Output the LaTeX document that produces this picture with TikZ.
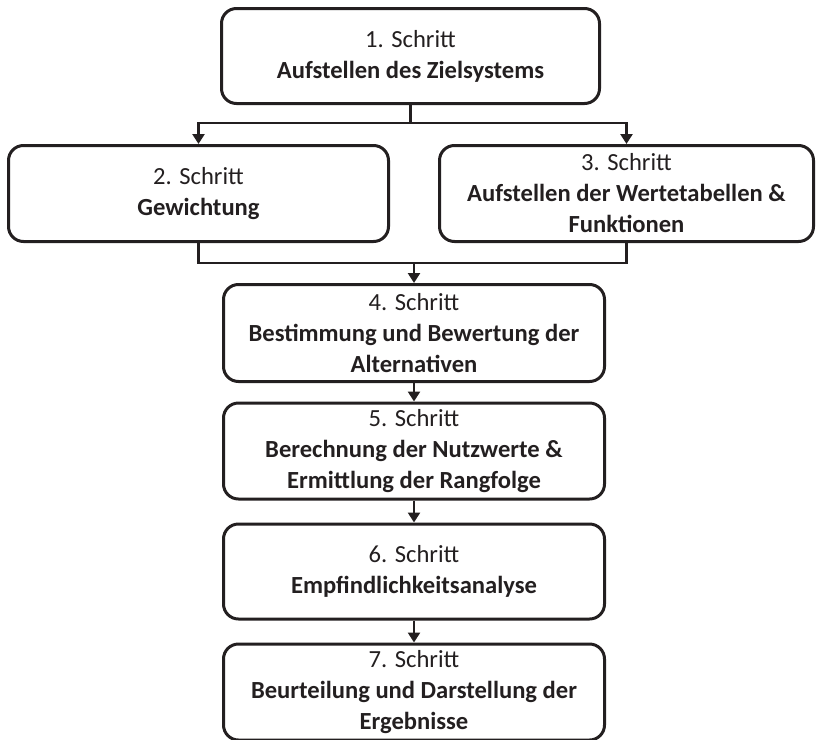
\documentclass[tikz,border=0pt]{standalone}
\usepackage{fontspec}
\setmainfont{Carlito}
\usetikzlibrary{arrows.meta}
\definecolor{ink}{HTML}{231F20}

\begin{document}
\begin{tikzpicture}[x=0.5pt,y=-0.5pt,
  schritt/.style={draw=ink,line width=1.5pt,rounded corners=7.5pt,align=center,text=ink,
    inner sep=0pt,font=\fontsize{12.3}{15.5}\selectfont},
  linie/.style={draw=ink,line width=1.3pt},
  pfeil/.style={linie,-{Triangle[width=6pt,length=5pt]}}]
\useasboundingbox (0,0) rectangle (818,739);

\node[schritt,minimum width=189pt,minimum height=47.5pt] (s1) at (410.5,56) {1. Schritt\\\textbf{Aufstellen des Zielsystems}};
\node[schritt,minimum width=190pt,minimum height=48pt] (s2) at (198.5,193.5) {2. Schritt\\\textbf{Gewichtung}};
\node[schritt,minimum width=187pt,minimum height=48pt] (s3) at (626.5,193.5) {3. Schritt\\\textbf{Aufstellen der Wertetabellen \&}\\\textbf{Funktionen}};
\node[schritt,minimum width=190.5pt,minimum height=48.5pt] (s4) at (414,333) {4. Schritt\\\textbf{Bestimmung und Bewertung der}\\\textbf{Alternativen}};
\node[schritt,minimum width=190.5pt,minimum height=48pt] (s5) at (414,451) {5. Schritt\\\textbf{Berechnung der Nutzwerte \&}\\\textbf{Ermittlung der Rangfolge}};
\node[schritt,minimum width=190.5pt,minimum height=47.5pt] (s6) at (414,571.5) {6. Schritt\\\textbf{Empfindlichkeitsanalyse}};
\node[schritt,minimum width=190.5pt,minimum height=48pt] (s7) at (414,692) {7. Schritt\\\textbf{Beurteilung und Darstellung der}\\\textbf{Ergebnisse}};

% Verzweigung nach Schritt 1
\draw[linie] (s1.south) -- ++(0,18) coordinate (gabel);
\draw[pfeil] (gabel) -| (s2.north);
\draw[pfeil] (gabel) -| (s3.north);

% Zusammenfuehrung von Schritt 2 und 3
\draw[linie] (s2.south) -- ++(0,20) coordinate (sammel) -| (s3.south);
\draw[pfeil] (sammel -| s4.north) -- (s4.north);

\foreach \a/\b in {s4/s5,s5/s6,s6/s7}
  \draw[pfeil] (\a) -- (\b);
\end{tikzpicture}
\end{document}
